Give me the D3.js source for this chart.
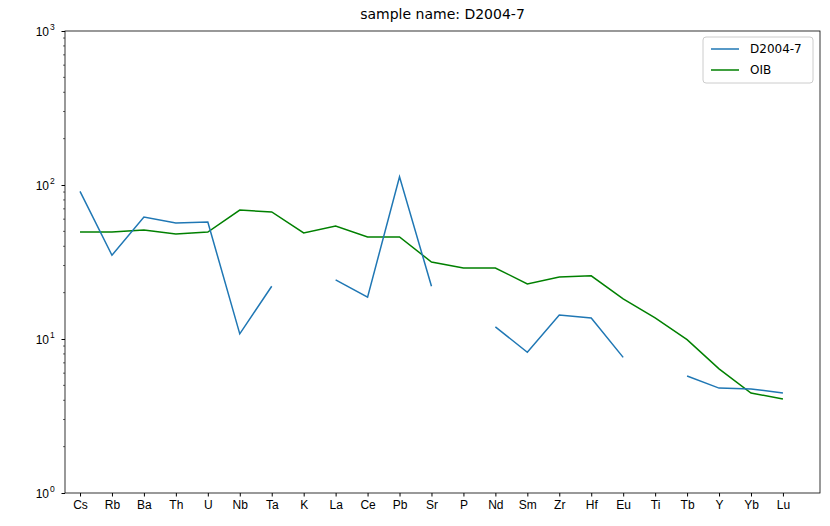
<!DOCTYPE html>
<html><head><meta charset="utf-8">
<script src="https://cdn.jsdelivr.net/npm/d3@7"></script>
<style>body{margin:0;background:#fff;font-family:"DejaVu Sans",sans-serif;}</style>
</head><body><div id="chart"></div>
<script>
const elements = ['Cs','Rb','Ba','Th','U','Nb','Ta','K','La','Ce','Pb','Sr','P','Nd','Sm','Zr','Hf','Eu','Ti','Tb','Y','Yb','Lu'];
const sample = [91, 35, 62, 56.7, 57.5, 10.8, 22, null, 24.2, 18.7, 113, 22, null, 12, 8.2, 14.3, 13.7, 7.6, null, 5.75, 4.8, 4.74, 4.46];
const oib = [49.5, 49.5, 51, 48, 49.5, 68.8, 66.8, 48.8, 54.2, 46, 46, 31.6, 28.9, 28.9, 22.8, 25.3, 25.7, 18.2, 13.7, 9.9, 6.4, 4.46, 4.08];
const yTicks = [1, 10, 100, 1000];

const width = 830, height = 526;
const margin = {top: 31, right: 10, bottom: 33, left: 65};
const svg = d3.select('#chart').append('svg').attr('width', width).attr('height', height);
const iw = width - margin.left - margin.right, ih = height - margin.top - margin.bottom;
const g = svg.append('g').attr('transform', `translate(${margin.left},${margin.top})`);

const x = d3.scaleLinear().domain([-0.47, elements.length - 1 + 1.16]).range([0, iw]);
const y = d3.scaleLog().domain([1, 1000]).range([ih, 0]);

// minor ticks
const minor = [];
for (let d = 1; d < 1000; d *= 10) for (let k = 2; k < 10; k++) minor.push(d * k);
g.selectAll('.minor').data(minor).enter().append('line')
  .attr('x1', -2).attr('x2', 0).attr('y1', d => y(d)).attr('y2', d => y(d))
  .attr('stroke', '#000').attr('stroke-width', 0.6);

const ya = g.append('g').call(d3.axisLeft(y).tickValues(yTicks).tickSize(3.5).tickPadding(4).tickFormat(() => ''));
ya.selectAll('.tick').append('text').attr('x', -16).attr('dy', '0.35em').attr('text-anchor', 'end')
  .attr('fill', '#000').style('font-size', '12px').text('10');
ya.selectAll('.tick').append('text').attr('x', -15).attr('dy', '-0.15em').attr('text-anchor', 'start')
  .attr('fill', '#000').style('font-size', '8.5px').text(d => Math.round(Math.log10(d)));

const xa = g.append('g').attr('transform', `translate(0,${ih})`)
  .call(d3.axisBottom(x).tickValues(d3.range(elements.length)).tickSize(3.5).tickPadding(4).tickFormat(i => elements[i]));
xa.selectAll('text').style('font-size', '12px').attr('fill', '#000');
[xa, ya].forEach(a => a.select('.domain').remove());
g.append('rect').attr('width', iw).attr('height', ih).attr('fill', 'none').attr('stroke', '#000').attr('stroke-width', 0.8);

const line = d3.line().defined(d => d != null).x((d, i) => x(i)).y(d => y(d));
g.append('path').datum(oib).attr('d', line).attr('fill', 'none').attr('stroke', 'green').attr('stroke-width', 1.5);
g.append('path').datum(sample).attr('d', line).attr('fill', 'none').attr('stroke', '#1f77b4').attr('stroke-width', 1.5);

svg.append('text').attr('x', margin.left + iw / 2).attr('y', 19).attr('text-anchor', 'middle')
  .style('font-size', '14px').text('sample name: D2004-7');

const lg = svg.append('g').attr('transform', 'translate(703,37)');
lg.append('rect').attr('width', 110).attr('height', 46).attr('rx', 3).attr('fill', '#fff').attr('stroke', '#ccc');
[['D2004-7', '#1f77b4'], ['OIB', 'green']].forEach((s, i) => {
  lg.append('line').attr('x1', 8).attr('x2', 36).attr('y1', 12 + i * 21).attr('y2', 12 + i * 21).attr('stroke', s[1]).attr('stroke-width', 1.5);
  lg.append('text').attr('x', 47).attr('y', 12 + i * 21).attr('dy', '0.35em').style('font-size', '12px').text(s[0]);
});
</script></body></html>
